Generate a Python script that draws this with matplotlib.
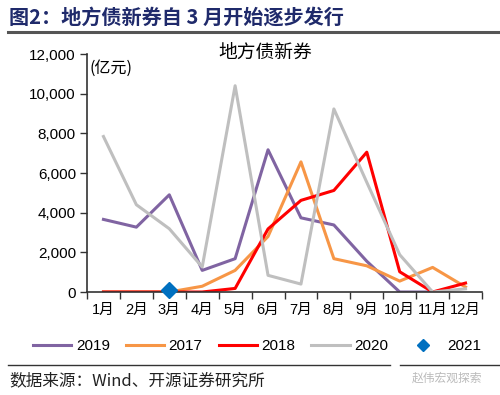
import numpy as np
import matplotlib
matplotlib.use('Agg')
import matplotlib.pyplot as plt
from matplotlib.ticker import FuncFormatter, FixedLocator
from matplotlib.lines import Line2D

months = ['1月', '2月', '3月', '4月', '5月', '6月', '7月', '8月', '9月', '10月', '11月', '12月']

# 地方债新券发行额（亿元）
y2019 = [3660, 3270, 4900, 1090, 1680, 7170, 3740, 3380, 1550, 0, 0, np.nan]
y2017 = [0, 0, 0, 290, 1090, 2800, 6560, 1680, 1320, 550, 1240, 250]
y2018 = [0, 0, 0, 0, 180, 3180, 4620, 5120, 7050, 1020, 0, 450]
y2020 = [7840, 4400, 3190, 1260, 10400, 840, 400, 9230, 5530, 1880, 0, 160]
y2021 = [np.nan, np.nan, 90] + [np.nan] * 9

CN = ['Noto Sans CJK SC', 'DejaVu Sans']
NUM = ['Liberation Sans', 'Noto Sans CJK SC']
plt.rcParams['font.family'] = NUM


def main():
    fig = plt.figure(figsize=(5.0, 3.95), dpi=100)
    ax = fig.add_axes([87 / 500, 1 - 292 / 395, 395 / 500, 238 / 395])

    x = np.arange(len(months))
    lw = 2.2
    ax.plot(x, y2019, color='#8064A2', lw=lw, label='2019')
    ax.plot(x, y2017, color='#F79646', lw=lw, label='2017')
    ax.plot(x, y2018, color='#FF0000', lw=lw, label='2018')
    ax.plot(x, y2020, color='#BFBFBF', lw=lw, label='2020')
    ax.plot(x, y2021, color='#0070C0', lw=0, marker='D', markersize=8, label='2021',
            clip_on=False, zorder=5)

    ax.set_xlim(-0.5, 11.5)
    ax.set_ylim(0, 12000)
    ax.set_yticks(np.arange(0, 12001, 2000))
    ax.yaxis.set_major_formatter(FuncFormatter(lambda v, p: f'{int(v):,}'))
    ax.xaxis.set_major_locator(FixedLocator(np.arange(-0.5, 12, 1)))
    ax.xaxis.set_minor_locator(FixedLocator(x))
    ax.set_xticklabels([])
    ax.set_xticklabels(months, minor=True, family=NUM, fontsize=10.5)
    ax.tick_params(axis='x', which='major', direction='out', length=5, width=1, color='#333333')
    ax.tick_params(axis='x', which='minor', length=0, pad=8)
    ax.tick_params(axis='y', direction='out', length=5, width=1, color='#333333',
                   labelsize=11, pad=3)
    for s in ['top', 'right']:
        ax.spines[s].set_visible(False)
    for s in ['left', 'bottom']:
        ax.spines[s].set_color('#333333')
        ax.spines[s].set_linewidth(1.2)

    ax.text(0.006, 0.975, '(亿元)', transform=ax.transAxes, family=CN, fontsize=11.5,
            va='top', ha='left')
    fig.text(265 / 500, 1 - 52 / 395, '地方债新券', family=CN, fontsize=13.5,
             ha='center', va='center')

    # 标题和分隔线
    fig.text(9 / 500, 1 - 17 / 395, '图2：地方债新券自 3 月开始逐步发行', family=CN,
             fontsize=14.5, fontweight='bold', color='#1F2A6B', ha='left', va='center')
    fig.add_artist(Line2D([8 / 500, 1], [1 - 32 / 395] * 2, color='#555555', lw=2.2))
    fig.add_artist(Line2D([8 / 500, 390 / 500], [1 - 365 / 395] * 2, color='#333333', lw=1))
    fig.add_artist(Line2D([400 / 500, 1], [1 - 365 / 395] * 2, color='#333333', lw=1))

    handles, labels = ax.get_legend_handles_labels()
    handles[-1] = Line2D([], [], color='#0070C0', lw=0, marker='D', markersize=6)
    fig.legend(handles, labels, loc='center', bbox_to_anchor=(257 / 500, 1 - 346 / 395),
               ncol=5, frameon=False, fontsize=11, handlelength=2.5, handletextpad=0.3,
               columnspacing=1.05, borderaxespad=0, borderpad=0)

    fig.text(9 / 500, 1 - 381 / 395, '数据来源：Wind、开源证券研究所', family=CN,
             fontsize=12, ha='left', va='center', color='#222222')
    fig.text(412 / 500, 1 - 378 / 395, '赵伟宏观探索', family=CN, fontsize=8.5,
             ha='left', va='center', color='#BBBBBB')

    fig.savefig('out.png', dpi=100)


if __name__ == '__main__':
    main()
